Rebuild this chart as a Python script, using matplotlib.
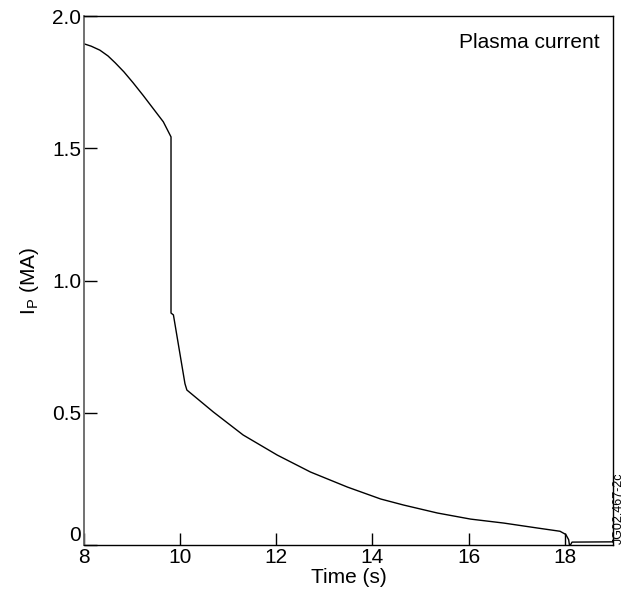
import matplotlib.pyplot as plt
import numpy as np

plt.rcParams['font.family'] = ['Liberation Sans', 'DejaVu Sans']
plt.rcParams['mathtext.fontset'] = 'custom'
plt.rcParams['mathtext.rm'] = 'Liberation Sans'

# plasma current trace
time_s = [8.0, 8.15, 8.33, 8.5, 8.65, 8.83, 9.02, 9.23, 9.44, 9.65, 9.81,
          9.81, 9.86, 10.10, 10.14, 10.69, 11.31, 12.02, 12.71, 13.48,
          14.17, 14.65, 15.35, 16.04, 16.73, 17.44, 17.9, 18.02, 18.08,
          18.1, 18.15, 19.0]
ip_ma = [1.895, 1.886, 1.871, 1.849, 1.823, 1.789, 1.748, 1.70, 1.65, 1.60,
         1.543, 0.877, 0.87, 0.61, 0.586, 0.503, 0.416, 0.340, 0.276, 0.219,
         0.174, 0.151, 0.121, 0.098, 0.083, 0.064, 0.052, 0.04, 0.02,
         -0.005, 0.011, 0.012]

xticks = [8, 10, 12, 14, 16, 18]
yticks = [0, 0.5, 1.0, 1.5, 2.0]
ytick_labels = ['0', '0.5', '1.0', '1.5', '2.0']

fig = plt.figure(figsize=(6.23, 5.98), dpi=100)
ax = fig.add_axes([0.1348, 0.0886, 0.849, 0.8846])

ax.plot(time_s, ip_ma, color='black', lw=1.0)

ax.set_xlim(8, 19)
ax.set_ylim(0, 2.0)
ax.set_xticks(xticks)
ax.set_yticks(yticks)
ax.set_yticklabels(ytick_labels)
ax.tick_params(direction='in', length=9, width=1, labelsize=15, pad=2)
# the "0" sits a little higher so it clears the "8"
ax.get_yticklabels()[0].set_verticalalignment('bottom')

for side in ['top', 'right', 'bottom']:
    ax.spines[side].set_color('black')
    ax.spines[side].set_linewidth(1.0)
ax.spines['left'].set_color('#666666')
ax.spines['left'].set_linewidth(1.3)

ax.set_xlabel('Time (s)', fontsize=15, labelpad=1)
ax.set_ylabel(r'I$_\mathregular{P}$ (MA)', fontsize=15, labelpad=8)

ax.text(0.975, 0.95, 'Plasma current', transform=ax.transAxes,
        ha='right', va='center', fontsize=15)

fig.text(0.993, 0.15, 'JG02.467-2c', rotation=90, ha='center',
         va='center', fontsize=9)

fig.savefig('out.png', dpi=100)
